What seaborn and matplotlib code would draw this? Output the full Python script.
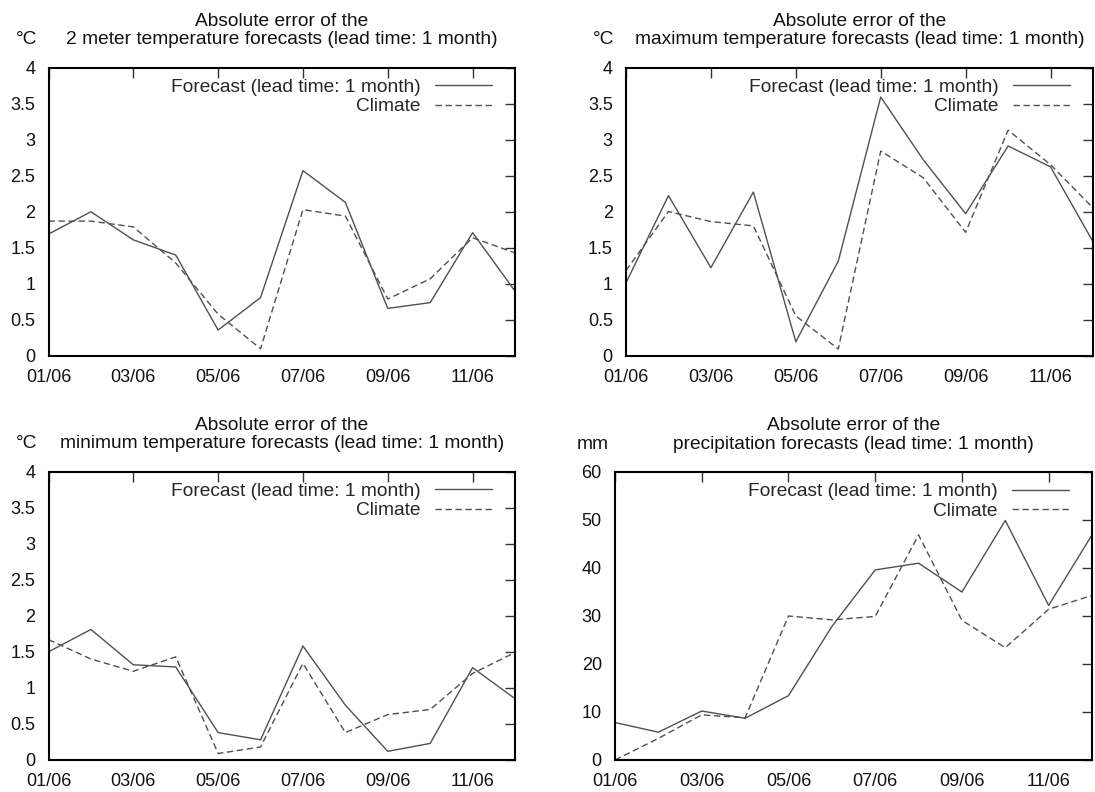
import matplotlib
matplotlib.use("Agg")
import matplotlib.pyplot as plt
import seaborn as sns
from matplotlib.ticker import FuncFormatter, MultipleLocator, FixedLocator

# ---------------- data ----------------
months = list(range(1, 13))
month_labels = ["01/06", "02/06", "03/06", "04/06", "05/06", "06/06",
                "07/06", "08/06", "09/06", "10/06", "11/06", "12/06"]
tick_months = [1, 3, 5, 7, 9, 11]

series_names = ["Forecast (lead time: 1 month)", "Climate"]

t2m_forecast = [1.69, 2.00, 1.61, 1.40, 0.36, 0.81, 2.57, 2.13, 0.66, 0.74, 1.71, 0.90]
t2m_climate = [1.87, 1.87, 1.79, 1.29, 0.58, 0.10, 2.03, 1.94, 0.79, 1.07, 1.64, 1.43]

tmax_forecast = [1.01, 2.22, 1.22, 2.27, 0.19, 1.31, 3.59, 2.72, 1.97, 2.91, 2.62, 1.58]
tmax_climate = [1.18, 2.00, 1.86, 1.80, 0.55, 0.09, 2.84, 2.47, 1.71, 3.13, 2.65, 2.05]

tmin_forecast = [1.50, 1.81, 1.32, 1.29, 0.38, 0.28, 1.58, 0.76, 0.12, 0.23, 1.28, 0.85]
tmin_climate = [1.67, 1.40, 1.23, 1.43, 0.09, 0.18, 1.34, 0.38, 0.63, 0.70, 1.20, 1.49]

prec_forecast = [7.8, 5.8, 10.2, 8.7, 13.4, 27.8, 39.6, 41.0, 35.0, 49.9, 32.2, 46.9]
prec_climate = [0.0, 4.5, 9.4, 8.8, 30.0, 29.2, 29.9, 46.9, 29.1, 23.4, 31.4, 34.3]

titles_line1 = "Absolute error of the"
titles_line2 = ["2 meter temperature forecasts (lead time: 1 month)",
                "maximum temperature forecasts (lead time: 1 month)",
                "minimum temperature forecasts (lead time: 1 month)",
                "precipitation forecasts (lead time: 1 month)"]
units = ["°C", "°C", "°C", "mm"]
y_max = [4, 4, 4, 60]
y_step = [0.5, 0.5, 0.5, 10]

# ---------------- style ----------------
sns.set_style("white")
plt.rcParams["font.family"] = ["Liberation Sans", "DejaVu Sans"]
FS = 13.8      # titles / legend
FS_TICK = 13
LINE_COLOR = "#505050"

W, H = 1095, 792
fig = plt.figure(figsize=(W / 100, H / 100), dpi=100)

# pixel boxes: left, top, right, bottom
boxes = [(48.5, 67.5, 515, 356), (626, 67.5, 1093, 355.5),
         (48.5, 471.5, 515, 760), (615, 472, 1092, 760)]
data = [(t2m_forecast, t2m_climate), (tmax_forecast, tmax_climate),
        (tmin_forecast, tmin_climate), (prec_forecast, prec_climate)]

for i, (box, (fc, cl)) in enumerate(zip(boxes, data)):
    l, t, r, b = box
    ax = fig.add_axes([l / W, 1 - b / H, (r - l) / W, (b - t) / H])
    sns.lineplot(x=months, y=fc, ax=ax, color=LINE_COLOR, linewidth=1.0,
                 label=series_names[0])
    sns.lineplot(x=months, y=cl, ax=ax, color=LINE_COLOR, linewidth=1.0,
                 label=series_names[1])
    ax.lines[-1].set_dashes([4.6, 2.6])

    ax.set_xlim(1, 12)
    ax.set_ylim(0, y_max[i])
    ax.xaxis.set_major_locator(FixedLocator(tick_months))
    ax.set_xticklabels([month_labels[m - 1] for m in tick_months])
    ax.yaxis.set_major_locator(MultipleLocator(y_step[i]))
    ax.yaxis.set_major_formatter(FuncFormatter(lambda v, p: f"{v:g}"))
    ax.set_xlabel("")
    ax.set_ylabel("")
    ax.tick_params(axis="both", direction="in", length=7, width=1.0,
                   color="#333333", top=True, right=True,
                   labelsize=FS_TICK, labelcolor="#111111")
    ax.tick_params(axis="x", pad=9.5)
    ax.tick_params(axis="y", pad=9.5)
    for s in ax.spines.values():
        s.set_visible(True)
        s.set_color("black")
        s.set_linewidth(1.5)
    ax.grid(False)

    wpx, hpx = r - l, b - t
    ax.legend(loc="upper right",
              bbox_to_anchor=(1 - 23 / wpx, 1 - 11 / hpx),
              frameon=False, markerfirst=False, handlelength=3,
              handletextpad=0.72, labelspacing=0.1, borderpad=0,
              borderaxespad=0, fontsize=FS)

    cx = (l + r) / 2 / W
    fig.text(cx, 1 - (t - 42) / H, titles_line1, ha="center", va="baseline",
             fontsize=FS, color="#111111")
    fig.text(cx, 1 - (t - 23) / H, titles_line2[i], ha="center",
             va="baseline", fontsize=FS, color="#111111")
    fig.text((l - 22) / W, 1 - (t - 23) / H, units[i], ha="center",
             va="baseline", fontsize=FS, color="#111111")

fig.savefig("out.png", dpi=100, facecolor="white")
